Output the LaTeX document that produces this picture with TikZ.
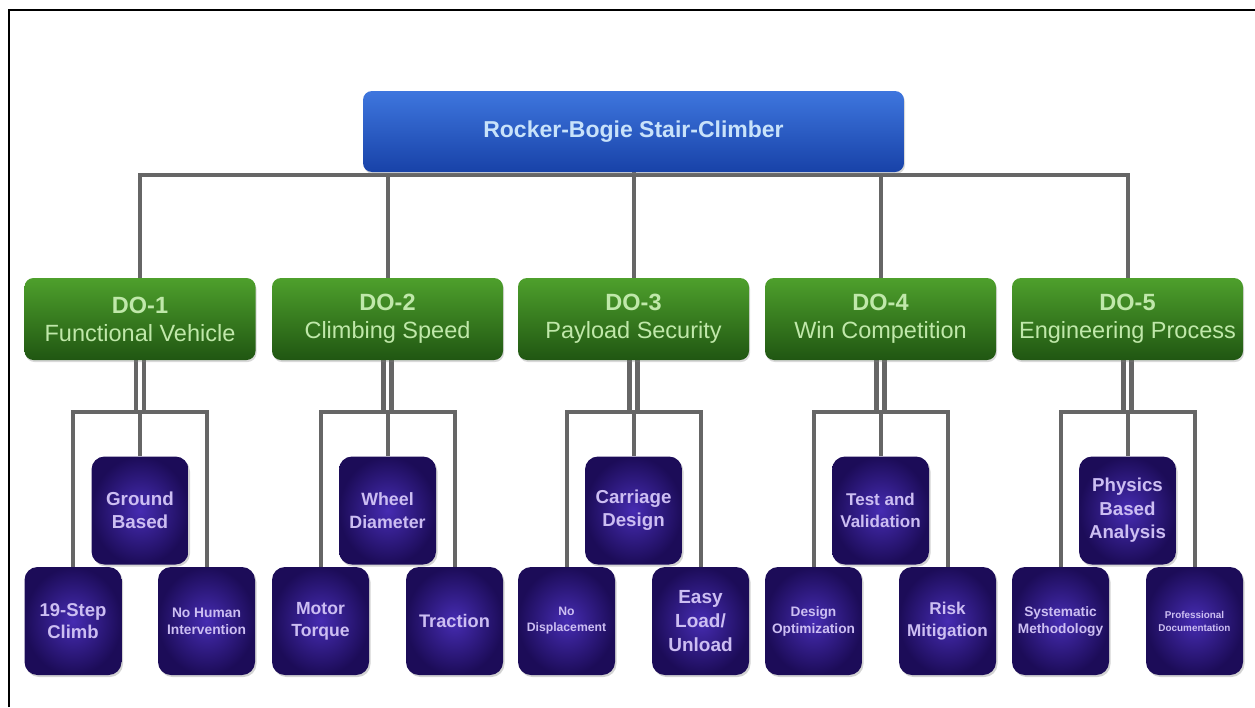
\documentclass[tikz,border=0pt]{standalone}
\usepackage{fontspec}
\setmainfont{Liberation Sans}
\usetikzlibrary{shadows}
\definecolor{blueA}{RGB}{62,118,222}
\definecolor{blueB}{RGB}{24,66,168}
\definecolor{blueT}{RGB}{200,226,250}
\definecolor{greenA}{RGB}{78,160,44}
\definecolor{greenB}{RGB}{32,86,18}
\definecolor{greenT}{RGB}{192,232,170}
\definecolor{purpA}{RGB}{70,44,178}
\definecolor{purpB}{RGB}{28,12,88}
\definecolor{purpT}{RGB}{204,190,242}
\definecolor{linkC}{RGB}{102,102,102}
\pgfdeclarelayer{background}
\pgfsetlayers{background,main}
\newcommand{\fsz}[2]{\fontsize{#1}{#2}\selectfont}
\tikzset{
  topbox/.style={rectangle, rounded corners=9pt, minimum width=541pt, minimum height=81pt, inner sep=0pt,
    top color=blueA, bottom color=blueB, draw=none, text=blueT, font=\fsz{23}{27}\bfseries,
    drop shadow={opacity=0.3, shadow xshift=1pt, shadow yshift=-2pt}},
  dobox/.style={rectangle, rounded corners=9pt, minimum width=231pt, minimum height=82pt, inner sep=0pt,
    top color=greenA, bottom color=greenB, draw=none, text=greenT, align=center, font=\fsz{23.5}{28},
    drop shadow={opacity=0.3, shadow xshift=1pt, shadow yshift=-2pt}},
  pbox/.style={rectangle, rounded corners=13pt, minimum width=97pt, minimum height=108pt, inner sep=0pt,
    shading=radial, inner color=purpA, outer color=purpB, draw=none, text=purpT, align=center,
    drop shadow={opacity=0.35, shadow xshift=1.5pt, shadow yshift=-2pt}},
  link/.style={draw=linkC, line width=4pt},
  dlink/.style={draw=linkC, line width=4.5pt},
}
\newcommand{\dotext}[2]{{\bfseries #1}\\#2}
\begin{document}
\begin{tikzpicture}[x=1pt,y=-1pt]
\useasboundingbox (0,0) rectangle (1255,707);
\draw[black, line width=2pt] (8.5,707) -- (8.5,10) -- (1255,10);

\node[topbox] (top) at (633.5,131.5) {Rocker-Bogie Stair-Climber};

\node[dobox] (do1) at (140,319) {\dotext{DO-1}{Functional Vehicle}};
\node[dobox] (do2) at (387.5,319) {\dotext{DO-2}{Climbing Speed}};
\node[dobox] (do3) at (633.5,319) {\dotext{DO-3}{Payload Security}};
\node[dobox] (do4) at (880.5,319) {\dotext{DO-4}{Win Competition}};
\node[dobox] (do5) at (1127.5,319) {\dotext{DO-5}{Engineering Process}};

% purple boxes: middle, left, right
\node[pbox, font=\fsz{18.8}{23}\bfseries] (m1) at (140,510.5) {Ground\\Based};
\node[pbox, font=\fsz{18.5}{22}\bfseries] (l1) at (73,621) {19-Step\\Climb};
\node[pbox, font=\fsz{13.8}{17}\bfseries] (r1) at (206.5,621) {No Human\\Intervention};

\node[pbox, font=\fsz{17.8}{23}\bfseries] (m2) at (387.5,510.5) {Wheel\\Diameter};
\node[pbox, font=\fsz{17.6}{22}\bfseries] (l2) at (320.5,621) {Motor\\Torque};
\node[pbox, font=\fsz{18.2}{22}\bfseries] (r2) at (454.5,621) {Traction};

\node[pbox, font=\fsz{18.7}{23}\bfseries] (m3) at (633.5,510.5) {Carriage\\Design};
\node[pbox, font=\fsz{12.2}{16}\bfseries] (l3) at (566.5,621) {No\\Displacement};
\node[pbox, font=\fsz{19}{24}\bfseries] (r3) at (700.5,621) {Easy\\Load/\\Unload};

\node[pbox, font=\fsz{17}{22}\bfseries] (m4) at (880.5,510.5) {Test and\\Validation};
\node[pbox, font=\fsz{13.7}{17}\bfseries] (l4) at (813.5,621) {Design\\Optimization};
\node[pbox, font=\fsz{17.1}{22}\bfseries] (r4) at (947.5,621) {Risk\\Mitigation};

\node[pbox, font=\fsz{18.7}{23.5}\bfseries] (m5) at (1127.5,510.5) {Physics\\Based\\Analysis};
\node[pbox, font=\fsz{13.7}{17}\bfseries] (l5) at (1060.5,621) {Systematic\\Methodology};
\node[pbox, font=\fsz{9.9}{13}\bfseries] (r5) at (1194.5,621) {Professional\\Documentation};

\coordinate (bus) at (0,175);
\coordinate (j1) at (140,412);
\coordinate (j2) at (387.5,412);
\coordinate (j3) at (633.5,412);
\coordinate (j4) at (880.5,412);
\coordinate (j5) at (1127.5,412);

\begin{pgfonlayer}{background}
  \draw[link] (do1.north) -- (do1.north |- bus) -- (do5.north |- bus) -- (do5.north);
  \draw[link] (do2.north) -- (do2.north |- bus);
  \draw[link] (do4.north) -- (do4.north |- bus);
  \draw[link] (top.south) -- (do3.north);
  \foreach \i in {1,...,5}{
    \draw[dlink] ([xshift=-4pt]do\i.south) -- ([xshift=-4pt]j\i);
    \draw[dlink] ([xshift=4pt]do\i.south) -- ([xshift=4pt]j\i);
    \draw[link] (l\i.north) |- (j\i) -| (r\i.north);
    \draw[link] (j\i) -- (m\i.north);
  }
\end{pgfonlayer}
\end{tikzpicture}
\end{document}
